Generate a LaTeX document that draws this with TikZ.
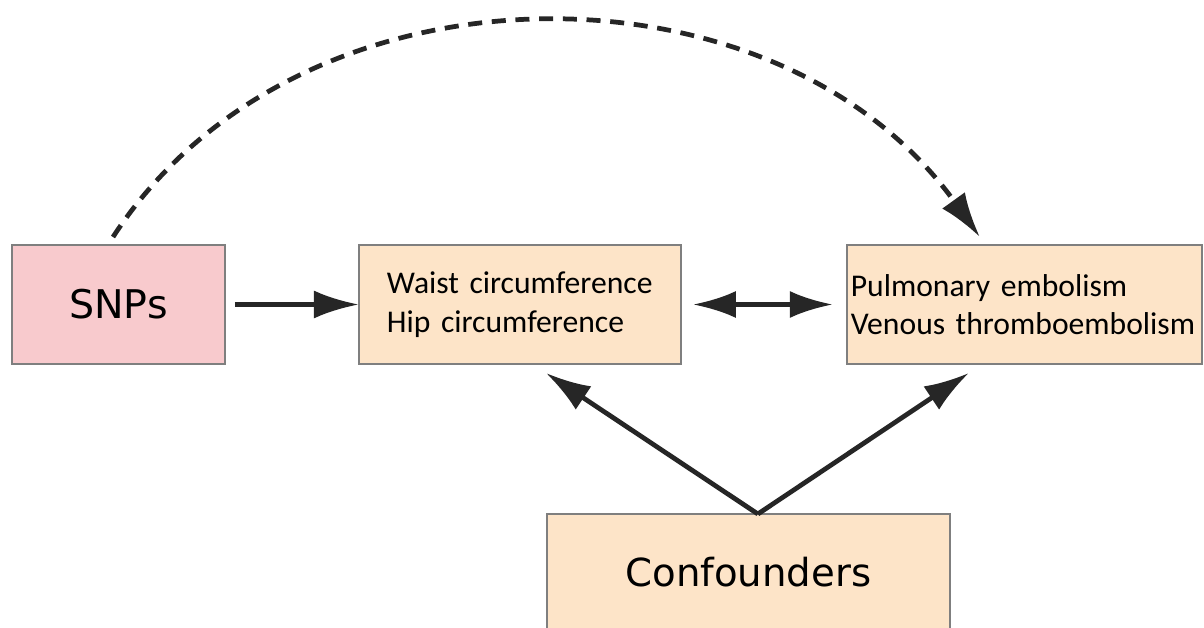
\documentclass[tikz,border=0pt]{standalone}
\usepackage{fontspec}
\setmainfont{Carlito}
\newfontfamily\labelsans{DejaVu Sans}
\usetikzlibrary{arrows.meta,positioning,calc}
\definecolor{Frame}{HTML}{7F7F7F}
\definecolor{Rose}{HTML}{F8CACD}
\definecolor{Peach}{HTML}{FDE4C8}
\definecolor{Ink}{HTML}{262626}
\tikzset{
  box/.style={draw=Frame,fill=Peach,line width=1.1pt,inner sep=0pt,outer sep=0pt,align=left,minimum height=2.38cm,font=\fontsize{18}{22}\selectfont},
  snpbox/.style={box,fill=Rose,align=center,font=\labelsans\fontsize{22.5}{26}\selectfont},
  confbox/.style={box,align=center,font=\labelsans\fontsize{22}{26}\selectfont},
  flow/.style={-{Latex[length=9mm,width=5.6mm]},draw=Ink,line width=2.7pt},
  twoway/.style={{Latex[length=8.6mm,width=5.4mm]}-{Latex[length=8.6mm,width=5.4mm]},draw=Ink,line width=2.7pt},
  hiddenflow/.style={flow,dash pattern=on 8pt off 5.5pt}
}
\begin{document}
\begin{tikzpicture}[x=0.02cm,y=-0.02cm]
  \useasboundingbox (0,0) rectangle (1204,628);
  \clip (0,0) rectangle (1204,628);
  \node[snpbox,minimum width=4.26cm] (snps) at (118.5,304.5) {SNPs};
  \node[box,minimum width=6.44cm,text width=5.32cm,right=2.68cm of snps] (waist) {Waist circumference\\Hip circumference};
  \node[box,minimum width=7.1cm,text width=6.94cm,right=3.32cm of waist] (pe) {Pulmonary embolism\\Venous thromboembolism};
  \node[confbox,minimum width=8.06cm,minimum height=2.32cm,anchor=north] (conf) at ($(waist.south east)+(67.5,150)$) {Confounders};
  % arrow ends
  \coordinate (dstart) at ($(snps.north)+(-5.5,-8)$);
  \coordinate (dend) at ($(pe.north west)+(133,-8)$);
  \coordinate (cstart) at ($(conf.north)+(9.5,0)$);
  \coordinate (wtip) at ($(waist.south west)+(187,9)$);
  \coordinate (ptip) at ($(pe.south west)+(122,9)$);
  \draw[flow,shorten <=10*0.02cm] (snps) -- (waist);
  \draw[twoway,shorten <=12*0.02cm,shorten >=14*0.02cm] (waist) -- (pe);
  \draw[flow] (cstart) -- (wtip);
  \draw[flow] (cstart) -- (ptip);
  \draw[hiddenflow] (dstart) .. controls +(185,-285) and +(-205,-285) .. (dend);
\end{tikzpicture}
\end{document}
